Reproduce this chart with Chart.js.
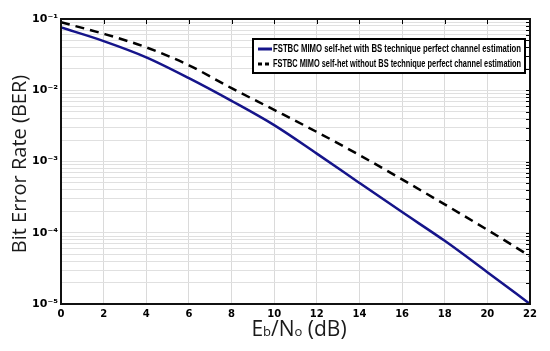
<!DOCTYPE html>
<html>
<head>
<meta charset="utf-8">
<script src="https://cdn.jsdelivr.net/npm/chart.js@4/dist/chart.umd.min.js"></script>
<style>
  html, body { margin: 0; padding: 0; background: #fff; }
  #wrap { width: 550px; height: 351px; }
</style>
</head>
<body>
<div id="wrap"><canvas id="ber" width="550" height="351"></canvas></div>
<script>
// Eb/No in dB
const snrDb = [0, 2, 4, 6, 8, 10, 12, 14, 16, 18, 20, 22];
// BER with the BS technique
const berWithBs = [0.076, 0.049, 0.029, 0.0148, 0.0071, 0.00324, 0.00129, 0.0005, 0.000195, 0.000077, 0.000028, 0.00001];
// BER without the BS technique
const berWithoutBs = [0.090, 0.062, 0.040, 0.0224, 0.0107, 0.0053, 0.0026, 0.00123, 0.00056, 0.00025, 0.00011, 0.000047];

const seriesLabels = [
  'FSTBC MIMO self-het with BS technique perfect channel estimation',
  'FSTBC MIMO self-het without BS technique perfect channel estimation'
];
const yTickLabels = { '-1': '10⁻¹', '-2': '10⁻²', '-3': '10⁻³', '-4': '10⁻⁴', '-5': '10⁻⁵' };
const xTicks = [0, 2, 4, 6, 8, 10, 12, 14, 16, 18, 20, 22];

const toPoints = (ys) => snrDb.map((x, i) => ({ x: x, y: ys[i] }));

// box, inner ticks, legend and axis titles
const extras = {
  id: 'extras',
  afterDraw(chart) {
    const ctx = chart.ctx;
    const a = chart.chartArea;
    const xs = chart.scales.x, ys = chart.scales.y;
    ctx.save();

    // inner ticks on top and right
    ctx.strokeStyle = '#000';
    ctx.lineWidth = 1;
    xTicks.forEach(v => {
      const px = Math.round(xs.getPixelForValue(v)) + 0.5;
      ctx.beginPath();
      ctx.moveTo(px, a.top);
      ctx.lineTo(px, a.top + 5);
      ctx.stroke();
    });
    ys.ticks.forEach(t => {
      const py = Math.round(ys.getPixelForValue(t.value)) + 0.5;
      ctx.beginPath();
      ctx.moveTo(a.right, py);
      ctx.lineTo(a.right - 4, py);
      ctx.stroke();
    });

    // frame
    ctx.lineWidth = 2;
    ctx.strokeStyle = '#111';
    ctx.strokeRect(a.left, a.top, a.right - a.left, a.bottom - a.top);

    // legend
    const lx = 253, ly = 39, lw = 272, lh = 34;
    ctx.fillStyle = '#fff';
    ctx.fillRect(lx, ly, lw, lh);
    ctx.lineWidth = 2;
    ctx.strokeStyle = '#000';
    ctx.strokeRect(lx, ly, lw, lh);
    ctx.font = 'bold 11px "Liberation Sans Narrow", "Liberation Sans", sans-serif';
    ctx.textBaseline = 'middle';
    ctx.fillStyle = '#000';
    chart.data.datasets.forEach((ds, i) => {
      const yy = ly + 10 + i * 15;
      ctx.strokeStyle = ds.borderColor;
      ctx.lineWidth = 3;
      ctx.setLineDash(ds.borderDash ? [4, 3] : []);
      ctx.beginPath();
      ctx.moveTo(lx + 5, yy);
      ctx.lineTo(lx + 19, yy);
      ctx.stroke();
      ctx.setLineDash([]);
      ctx.fillText(ds.label, lx + 20, yy, lw - 24);
    });

    // y title
    ctx.fillStyle = '#1a1a1a';
    ctx.font = '20px "Open Sans", sans-serif';
    ctx.textAlign = 'center';
    ctx.textBaseline = 'middle';
    ctx.save();
    ctx.translate(20, 164);
    ctx.rotate(-Math.PI / 2);
    ctx.fillText('Bit Error Rate (BER)', 0, 0);
    ctx.restore();

    // x title: Eb/No (dB) with small subscripts
    const parts = [
      ['E', 21, 0], ['b', 13, 0], ['/N', 21, 0], ['o', 13, 0], [' (dB)', 21, 0]
    ];
    ctx.textAlign = 'left';
    ctx.textBaseline = 'alphabetic';
    let total = 0;
    parts.forEach(p => { ctx.font = p[1] + 'px "Open Sans", sans-serif'; total += ctx.measureText(p[0]).width; });
    let cx = 299 - total / 2;
    parts.forEach(p => {
      ctx.font = p[1] + 'px "Open Sans", sans-serif';
      ctx.fillText(p[0], cx, 336 + p[2]);
      cx += ctx.measureText(p[0]).width;
    });
    ctx.restore();
  }
};

new Chart(document.getElementById('ber'), {
  type: 'line',
  data: {
    datasets: [
      {
        label: seriesLabels[0],
        data: toPoints(berWithBs),
        borderColor: '#15148a',
        borderWidth: 2.5,
        pointRadius: 0,
        cubicInterpolationMode: 'monotone',
        fill: false
      },
      {
        label: seriesLabels[1],
        data: toPoints(berWithoutBs),
        borderColor: '#000',
        borderWidth: 2.5,
        borderDash: [9, 6],
        pointRadius: 0,
        cubicInterpolationMode: 'monotone',
        fill: false
      }
    ]
  },
  options: {
    responsive: false,
    animation: false,
    layout: { padding: { top: 19, right: 20, left: 0, bottom: 0 } },
    plugins: { legend: { display: false }, tooltip: { enabled: false } },
    scales: {
      x: {
        type: 'linear',
        min: 0,
        max: 22,
        afterBuildTicks: (s) => { s.ticks = xTicks.map(v => ({ value: v })); },
        afterFit: (s) => { s.height = 47; },
        grid: { color: '#dadada', lineWidth: 1, drawTicks: false },
        border: { display: false },
        ticks: {
          color: '#000',
          padding: 4,
          maxRotation: 0,
          font: { family: 'DejaVu Sans', size: 10, weight: 'bold' }
        }
      },
      y: {
        type: 'logarithmic',
        min: 1e-5,
        max: 1e-1,
        afterBuildTicks: (s) => {
          const t = [];
          for (let e = -5; e <= -1; e++) {
            for (let m = 1; m <= 9; m++) {
              const v = m * Math.pow(10, e);
              if (v <= 0.1000001) t.push({ value: v });
            }
          }
          s.ticks = t;
        },
        afterFit: (s) => { s.width = 61; },
        grid: { color: '#e0e0e0', lineWidth: 1, drawTicks: false },
        border: { display: false },
        ticks: {
          color: '#000',
          padding: 3,
          autoSkip: false,
          font: { family: 'DejaVu Sans', size: 11, weight: 'bold' },
          callback: (v) => {
            const e = Math.log10(v);
            return Math.abs(e - Math.round(e)) < 1e-6 ? yTickLabels[String(Math.round(e))] : '';
          }
        }
      }
    }
  },
  plugins: [extras]
});
</script>
</body>
</html>
